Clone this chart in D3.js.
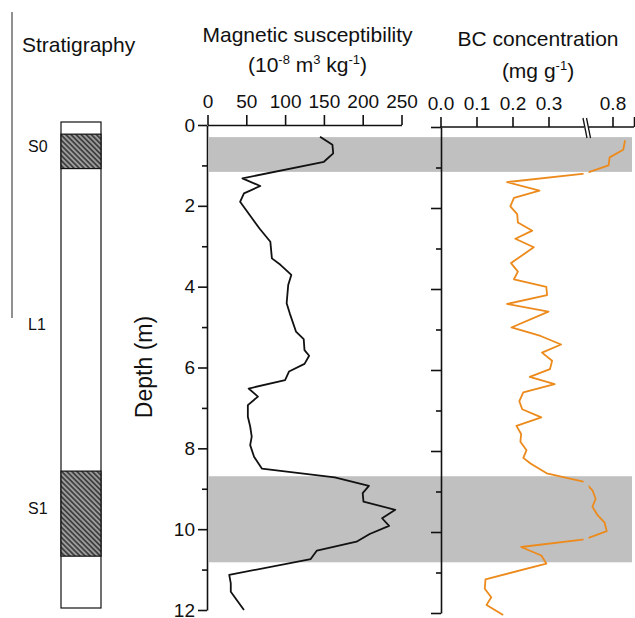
<!DOCTYPE html>
<html><head><meta charset="utf-8">
<script src="https://cdn.jsdelivr.net/npm/d3@7"></script>
<style>
html,body{margin:0;padding:0;background:#fff;}
svg text{font-family:"Liberation Sans",Arial,sans-serif;fill:#111;}
</style></head>
<body><svg id="c" width="635" height="618"></svg>
<script>
// ---- data ----
const depthTicks = [0,1,2,3,4,5,6,7,8,9,10,11,12];
const msTicks = [0,50,100,150,200,250];
const bcTicks = [0,0.1,0.2,0.3,0.8];
const bcTickLabels = ["0.0","0.1","0.2","0.3","0.8"];
const msDepth = [0.29,0.49,0.70,0.91,1.32,1.51,1.69,1.90,2.27,2.56,2.89,3.30,3.46,3.71,3.96,4.41,4.66,5.11,5.30,5.57,5.71,5.91,6.10,6.31,6.52,6.72,6.93,7.22,7.46,7.71,7.92,8.21,8.50,8.72,8.93,9.11,9.32,9.52,9.73,9.92,10.12,10.31,10.53,10.74,11.13,11.34,11.55,12.0];
const msValue = [145,161,162,150,45,68,47,42,56,67,81,83,94,108,104,102,106,114,124,125,131,125,105,100,53,65,52,52,55,57,55,60,70,164,208,200,201,242,225,234,209,192,141,133,28,30,30,47];
const bcDepth = [0.33,0.56,0.75,0.95,1.15,1.36,1.57,1.75,1.96,2.15,2.36,2.56,2.76,2.97,3.36,3.57,3.76,3.95,4.15,4.37,4.56,4.95,5.16,5.37,5.57,5.77,5.98,6.17,6.35,6.55,6.77,6.97,7.17,7.38,7.58,7.77,7.98,8.17,8.31,8.55,8.76,8.97,9.18,9.38,9.59,9.77,9.98,10.18,10.37,10.58,10.78,11.17,11.40,11.61,11.80,12.05];
const bcValue = [0.835,0.83,0.792,0.789,0.40,0.185,0.275,0.204,0.194,0.213,0.215,0.255,0.208,0.259,0.196,0.215,0.204,0.294,0.296,0.185,0.30,0.197,0.278,0.335,0.282,0.31,0.304,0.248,0.317,0.23,0.219,0.227,0.28,0.211,0.224,0.222,0.239,0.23,0.25,0.295,0.40,0.744,0.753,0.744,0.759,0.778,0.784,0.40,0.224,0.28,0.294,0.125,0.123,0.141,0.128,0.174];
const bandStart = [0.3, 8.69];
const bandEnd = [1.16, 10.82];
const strataName = ["S0","L1","S1"];
const strataTop = [0.3, 1.15, 8.62];
const strataBottom = [1.15, 8.62, 10.72];
const strataHatched = [true, false, true];
const strataLabelDepth = [0.6, 5.0, 9.55];

// ---- setup ----
const svg = d3.select("#c");
const FONT = '"Liberation Sans",Arial,sans-serif';
const orange = "#ec8a1c";

const y = d3.scaleLinear().domain([0,12]).range([125,610]);
const yR = d3.scaleLinear().domain([0,12]).range([127,613]);
const yCol = d3.scaleLinear().domain([0,12]).range([122,608]);
const xMS = d3.scaleLinear().domain([0,250]).range([207.5,401.5]);
const xBC = d3.scaleLinear().domain([0,0.4,0.74,0.86]).range([440.5,584.5,591,634]);

// defs
const defs = svg.append("defs");
const pat = defs.append("pattern").attr("id","hatch").attr("patternUnits","userSpaceOnUse")
  .attr("width",4).attr("height",3.6).attr("patternTransform","rotate(45)");
pat.append("rect").attr("width",4).attr("height",3.6).attr("fill","#9c9c9c");
pat.append("line").attr("x1",0).attr("x2",4).attr("y1",1.8).attr("y2",1.8).attr("stroke","#262626").attr("stroke-width",1.4);
const clip = defs.append("clipPath").attr("id","brk");
clip.append("rect").attr("x",0).attr("y",0).attr("width",583.6).attr("height",618);
clip.append("rect").attr("x",588.6).attr("y",0).attr("width",60).attr("height",618);

// left decorative vertical line
svg.append("line").attr("x1",12).attr("x2",12).attr("y1",12).attr("y2",318).attr("stroke","#555").attr("stroke-width",1.3);

// titles
svg.append("text").attr("x",22).attr("y",52).attr("font-size",21).text("Stratigraphy");
svg.append("text").attr("x",307.5).attr("y",42).attr("font-size",21).attr("text-anchor","middle").text("Magnetic susceptibility");
const st1 = svg.append("text").attr("x",307.5).attr("y",72).attr("font-size",21).attr("text-anchor","middle");
st1.append("tspan").text("(10");
st1.append("tspan").attr("dy",-8).attr("font-size",13).text("-8");
st1.append("tspan").attr("dy",8).text(" m");
st1.append("tspan").attr("dy",-8).attr("font-size",13).text("3");
st1.append("tspan").attr("dy",8).text(" kg");
st1.append("tspan").attr("dy",-8).attr("font-size",13).text("-1");
st1.append("tspan").attr("dy",8).text(")");
svg.append("text").attr("x",538).attr("y",46).attr("font-size",21).attr("text-anchor","middle").text("BC concentration");
const st2 = svg.append("text").attr("x",538).attr("y",78).attr("font-size",21).attr("text-anchor","middle");
st2.append("tspan").text("(mg g");
st2.append("tspan").attr("dy",-8).attr("font-size",13).text("-1");
st2.append("tspan").attr("dy",8).text(")");

// stratigraphy column
const colX = 61, colW = 40;
svg.append("rect").attr("x",colX).attr("y",yCol(0)).attr("width",colW).attr("height",yCol(12)-yCol(0))
  .attr("fill","#fff").attr("stroke","#111").attr("stroke-width",1.2);
strataName.forEach((n,i)=>{
  if(strataHatched[i]){
    svg.append("rect").attr("x",colX).attr("y",yCol(strataTop[i])).attr("width",colW)
      .attr("height",yCol(strataBottom[i])-yCol(strataTop[i]))
      .attr("fill","url(#hatch)").attr("stroke","#111").attr("stroke-width",1.2);
  }
  svg.append("text").attr("x",28).attr("y",yCol(strataLabelDepth[i])).attr("dy","0.35em")
    .attr("font-size",16).text(n);
});

// gray bands
bandStart.forEach((b,i)=>{
  svg.append("rect").attr("x",209).attr("y",y(b)).attr("width",632-209).attr("height",y(bandEnd[i])-y(b))
    .attr("fill","#c0c0c0");
});

// magnetic line
const msData = msDepth.map((d,i)=>({d, v: msValue[i]}));
svg.append("path").datum(msData)
  .attr("d", d3.line().x(p=>xMS(p.v)).y(p=>y(p.d)))
  .attr("fill","none").attr("stroke","#111").attr("stroke-width",1.8).attr("stroke-linejoin","round");

// BC line
const bcData = bcDepth.map((d,i)=>({d, v: bcValue[i]}));
svg.append("path").datum(bcData).attr("clip-path","url(#brk)")
  .attr("d", d3.line().x(p=>xBC(p.v)).y(p=>yR(p.d)))
  .attr("fill","none").attr("stroke",orange).attr("stroke-width",1.8).attr("stroke-linejoin","round");

// helper to style axes
function styleAxis(g){
  g.selectAll("path,line").attr("stroke","#111").attr("stroke-width",1.6);
  g.selectAll("text").attr("font-family",FONT).attr("fill","#111");
}

// left depth axis
const gL = svg.append("g").attr("transform","translate(207,0)")
  .call(d3.axisLeft(y).tickValues(depthTicks).tickSize(9).tickSizeOuter(0).tickPadding(3)
    .tickFormat(d=> d%2===0 ? d : ""));
gL.selectAll(".tick").filter(d=>d%2!==0).select("line").attr("x2",-5);
gL.selectAll("text").attr("font-size",19);
styleAxis(gL);

// magnetic top axis
const gT = svg.append("g").attr("transform","translate(0,125)")
  .call(d3.axisTop(xMS).tickValues(msTicks).tickSize(10).tickSizeOuter(0).tickPadding(7));
gT.selectAll("text").attr("font-size",19);
styleAxis(gT);

// BC right vertical axis
const gR = svg.append("g").attr("transform","translate(441,0)")
  .call(d3.axisLeft(yR).tickValues(depthTicks).tickSize(10).tickSizeOuter(0).tickFormat(""));
gR.selectAll(".tick").filter(d=>d%2!==0).select("line").attr("x2",-5);
styleAxis(gR);

// BC top axis with break
const gB = svg.append("g").attr("transform","translate(0,127)")
  .call(d3.axisTop(xBC).tickValues(bcTicks.concat([0.86])).tickSize(10).tickSizeOuter(0).tickPadding(7)
    .tickFormat(d=>{const k=bcTicks.indexOf(d); return k>=0 ? bcTickLabels[k] : "";}));
gB.select(".domain").remove();
gB.append("line").attr("x1",xBC(0)).attr("x2",xBC(0.4)-0.5).attr("y1",0).attr("y2",0);
gB.append("line").attr("x1",xBC(0.74)-2).attr("x2",xBC(0.86)).attr("y1",0).attr("y2",0);
gB.selectAll("text").attr("font-size",19);
styleAxis(gB);
const bx = xBC(0.4);
[ -1.5, 2.0 ].forEach(o=>{
  svg.append("line").attr("x1",bx+o).attr("y1",118).attr("x2",bx+o+4).attr("y2",138)
    .attr("stroke","#111").attr("stroke-width",1.3);
});

// depth label
svg.append("text").attr("transform","translate(152,367) rotate(-90)")
  .attr("text-anchor","middle").attr("font-size",23).text("Depth (m)");
</script></body></html>
